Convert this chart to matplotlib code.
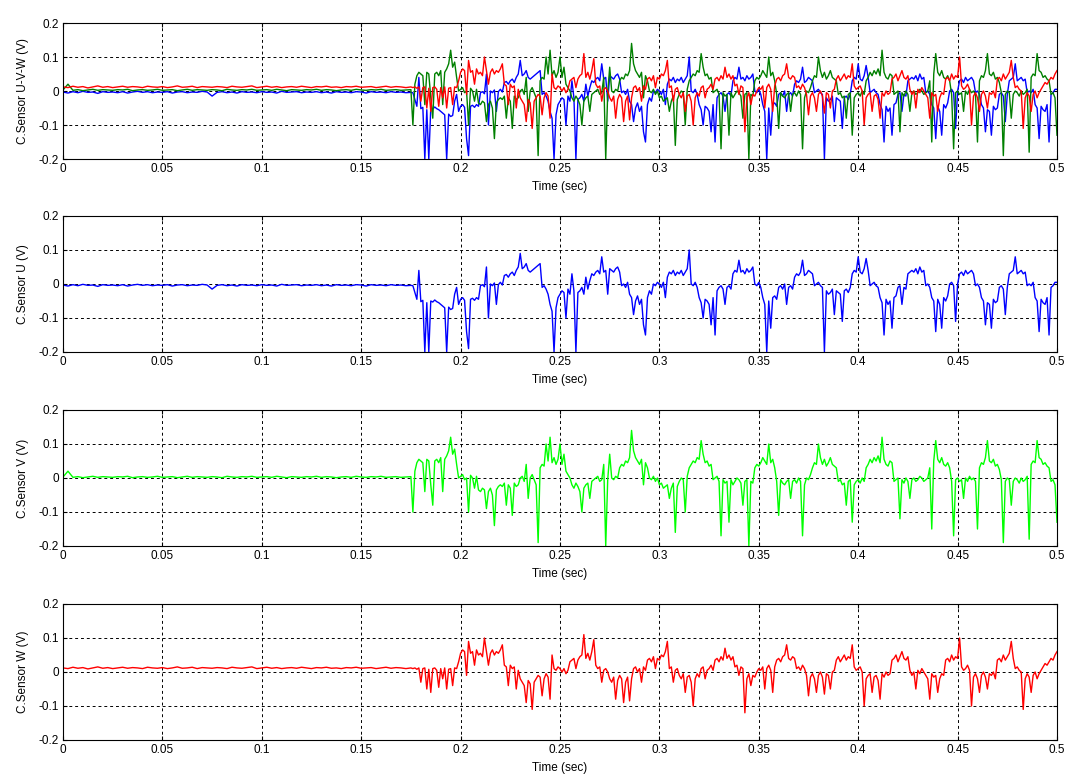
import numpy as np
import matplotlib
matplotlib.use('Agg')
import matplotlib.pyplot as plt

# ------------------------------------
# DATA (mV)
# ------------------------------------
# quiet part: 0 .. 0.175 s, one value every 2.5 ms
QUIET_DT = 0.0025
u_quiet = [-3, -6, -2, -5, -1, -4, -3, -7, -2, -4,
           -3, -5, -2, -6, -3, -1, -4, -2, -5, -3,
           -4, -2, -6, -3, -2, -5, -3, -4, -1, -3,
           -15, -4, -2, -5, -3, -6, -2, -4, -3, -5,
           -2, -4, -3, -6, -1, -4, -3, -2, -5, -3,
           -4, -2, -5, -3, -6, -2, -4, -3, -5, -2,
           -3, -6, -2, -4, -3, -5, -2, -4, -3, -5, -4]
v_quiet = [3, 20, 2, 4, 1, 3, 5, 2, 4, 3,
           2, 4, 3, 5, 1, 3, 4, 2, 3, 5,
           2, 3, 4, 1, 3, 5, 2, 4, 3, 2,
           4, 3, 1, 5, 3, 2, 4, 3, 5, 2,
           3, 4, 2, 5, 3, 1, 4, 3, 2, 4,
           3, 5, 2, 4, 3, 1, 3, 4, 2, 5,
           3, 2, 4, 3, 5, 2, 3, 4, 2, 3, 4]
w_quiet = [12, 10, 14, 11, 13, 9, 12, 15, 11, 13,
           10, 12, 14, 11, 13, 12, 10, 14, 12, 11,
           13, 10, 12, 15, 11, 12, 14, 10, 13, 12,
           11, 13, 12, 10, 14, 12, 11, 13, 15, 10,
           12, 14, 11, 13, 10, 12, 13, 11, 14, 12,
           10, 13, 12, 14, 11, 12, 10, 13, 12, 14,
           11, 12, 13, 10, 12, 14, 11, 13, 12, 10, 12]

# active part: from 0.176 s, one value every 1 ms
ACTIVE_T0 = 0.176
ACTIVE_DT = 0.001
u_active = [-5, -25, -45, 40,
            -52, -48, -200, -55, -200, -50, -53, -47, -52, -55,   # 0.18
            -60, -65, -70, -200, -68, -75, -72, -30, -10, -60,    # 0.19
            -45, -40, -48, -140, -190, -45, -42, -48, -40, -45,   # 0.20
            -5, -2, -8, 50, -100, 0, -5, 3, -60, -2,              # 0.21
            5, -3, 25, 28, 20, 30, 35, 25, 40, 50,                # 0.22
            90, 45, 50, 60, 40, 35, 40, 45, 50, 55,               # 0.23
            60, -10, -5, -15, -30, -60, -80, -200, -70, -40,      # 0.24
            -30, -20, -25, -100, -15, -30, 30, -20, -200, -25,    # 0.25
            -20, -10, -30, 20, -15, 10, 30, 25, 35, 40,           # 0.26
            30, 80, 35, 40, -30, 45, 40, 35, 45, 50,              # 0.27
            35, -5, 0, -10, 5, -30, -40, -90, -50, -35,           # 0.28
            -60, -45, -120, -150, -40, -20, -30, 0, -5, 5,        # 0.29
            0, -10, 5, -40, 20, 35, 30, 40, 25, 35,               # 0.30
            30, 40, 25, 35, 45, 100, 0, -5, 5, -10,               # 0.31
            -40, -55, -100, -45, -50, -60, -120, -40, -150, -20,  # 0.32
            -10, -5, -15, -60, -10, -5, -15, 30, 40, 35,          # 0.33
            70, 35, 40, 30, 45, 35, 40, 50, 0, -5,                # 0.34
            5, -10, -40, -60, -200, -50, -130, -40, -35, -45,     # 0.35
            -10, -5, -15, 0, -60, -10, -5, -15, 20, 30,           # 0.36
            25, 35, 70, 25, 30, 40, 35, 30, -5, 0,                # 0.37
            5, -5, -10, -200, -20, -30, -25, -15, -90, -20,       # 0.38
            -25, -30, -110, -20, -15, -25, -10, 30, 40, 35,       # 0.39
            80, 35, 30, 45, 75, 40, -5, 0, 5, -5,                 # 0.40
            -10, -40, -55, -150, -45, -60, -50, -130, -40, -35,   # 0.41
            -10, -5, -60, -10, -15, 30, 35, 40, 35, 45,           # 0.42
            30, 50, 35, 40, -5, 0, -10, -40, -50, -140,           # 0.43
            -45, -60, -130, -40, -50, -35, 0, 5, -5, -110,        # 0.44
            0, 30, 35, 25, 40, 30, 35, 40, 30, -5,                # 0.45
            0, -10, -40, -50, -120, -55, -60, -130, -45, -55,     # 0.46
            -50, -10, -5, -15, -90, -10, 30, 35, 40, 80,          # 0.47
            30, 35, 40, 30, 35, -5, 0, -5, 5, -40,                # 0.48
            -50, -140, -45, -55, -60, -40, -150, -10, -5, 5,      # 0.49
            5]
v_active = [-100, 20, 45, 55,
            50, 45, -40, 55, 50, -20, -80, 50, 55, 45,            # 0.18
            60, -40, 55, 65, 80, 120, 70, 85, 40, 0,              # 0.19
            5, 10, -5, 0, -100, 8, 0, -30, 5, -35,                # 0.20
            -40, -30, -35, -90, -40, -30, -50, -140, -35, -25,    # 0.21
            -20, -25, -15, -80, -20, -30, -110, -15, -25, -20,    # 0.22
            0, 5, -10, 40, -60, 0, 10, -5, -20, -190,             # 0.23
            30, 40, 35, 100, 50, 120, 45, 60, 40, 55,             # 0.24
            100, 40, 70, 20, 10, 0, -20, -30, -15, -25,           # 0.25
            -40, -100, -30, -20, -15, -60, -10, -5, 0, 5,         # 0.26
            -10, -5, 40, -200, -5, 70, 0, -5, 5, 0,               # 0.27
            30, 40, 35, 50, 45, 60, 140, 80, 60, 50,              # 0.28
            40, 55, -20, 45, 30, 0, -5, 5, -10, 0,                # 0.29
            -20, -15, -30, -25, -20, -60, -30, -15, -160, -25,    # 0.30
            -10, 0, -5, -100, 5, 30, 40, 50, 45, 60,              # 0.31
            55, 110, 70, 45, 50, 35, 40, -5, 0, 5,                # 0.32
            -10, -170, -5, -15, -10, -130, -5, -20, -10, 0,       # 0.33
            -5, -15, -80, -10, -5, -200, -10, -15, 30, 40,        # 0.34
            35, 45, 60, 50, 40, 100, 45, 55, 30, -10,             # 0.35
            -110, -5, -15, -20, -10, -5, -60, -10, -5, -15,       # 0.36
            0, -10, -170, -20, 0, -5, 10, 30, 45, 40,             # 0.37
            100, 60, 40, 55, 35, 45, 60, 40, 35, 30,              # 0.38
            -10, -5, -20, -15, -80, -10, -5, -130, -20, -10,      # 0.39
            -5, -15, 0, -10, 30, 40, 55, 45, 60, 50,              # 0.40
            65, 45, 120, 55, 40, 35, 50, 45, -10, -5,             # 0.41
            0, -120, -5, -15, 0, -10, -60, -5, 0, -10,            # 0.42
            -5, 5, 0, -10, -5, 0, 30, -150, 50, 110,              # 0.43
            55, 45, 60, 40, 35, 45, 30, -10, -170, -5,            # 0.44
            0, -10, -5, -60, 0, -10, 5, -5, 0, -10,               # 0.45
            -150, 30, 45, 40, 60, 110, 50, 45, 55, 35,            # 0.46
            40, 25, -5, -190, -10, 0, -5, -80, -10, 0,            # 0.47
            -5, -15, 0, -10, -5, 5, -180, 40, 50, 45,             # 0.48
            110, 60, 55, 40, 45, 35, 30, -10, -5, -20,            # 0.49
            -130]
w_active = [10, 12, 8, 12,
            -30, 10, 12, -50, 8, -60, 10, 12, 5, -45,             # 0.18
            10, -20, 12, -50, 8, 10, -40, 12, 10, 30,             # 0.19
            55, 65, 60, -10, 90, 55, 60, 20, 65, 50,              # 0.20
            55, 45, 100, 60, 20, 55, 65, 50, 60, 55,              # 0.21
            65, 80, 20, 15, -40, 20, 10, 15, -50, 5,              # 0.22
            -20, -30, -40, -90, -25, -35, -110, -30, -20, -10,    # 0.23
            -15, -70, -20, -5, -15, -80, 50, 10, 5, 15,           # 0.24
            10, 0, 10, -5, 5, 30, 35, 40, 10, 35,                 # 0.25
            45, 50, 110, 40, 55, 35, 60, 95, 20, 10,              # 0.26
            15, -30, 5, 10, 0, -20, -30, -15, -80, -25,           # 0.27
            -10, -20, -90, -30, -15, -85, -20, 10, 15, 0,         # 0.28
            10, -30, 15, 5, 35, 40, 30, 45, 10, 40,               # 0.29
            35, 50, 45, 60, 90, 10, 15, -30, 5, 10,               # 0.30
            -10, -20, -5, -60, -15, -10, -30, -100, -20, -5,      # 0.31
            -15, 10, 15, -20, 5, 10, 20, 5, 35, 40,               # 0.32
            30, 45, 35, 70, 40, 50, 35, 45, 15, 20,               # 0.33
            -10, 15, 10, -120, -20, -5, -40, -10, -15, 0,         # 0.34
            10, 5, 15, -50, 10, 20, 5, -60, 15, 35,               # 0.35
            40, 30, 45, 50, 80, 40, 35, 45, 40, 10,               # 0.36
            15, 5, 20, 10, -10, -70, -15, -5, -20, -60,           # 0.37
            -10, 0, -15, -65, -5, -10, -50, 0, 5, 35,             # 0.38
            45, 30, 40, 50, 35, 45, 40, 80, 15, 5,                # 0.39
            10, 15, 0, -100, -20, -10, -5, -60, -15, -10,         # 0.40
            -25, -80, -5, -15, 0, -10, -5, 35, 40, 50,            # 0.41
            30, 45, 60, 40, 35, 45, 5, -10, 0, -50,               # 0.42
            5, -5, 10, 0, -10, -20, -80, -5, -15, -10,            # 0.43
            -60, -20, -5, -10, 35, 40, 30, 50, 35, 45,            # 0.44
            40, 100, 15, 5, 10, 20, 5, -100, -15, -5,             # 0.45
            -20, -60, -10, 0, -15, -50, -5, -10, 0, -20,          # 0.46
            35, 40, 30, 50, 35, 45, 55, 90, 40, 10,               # 0.47
            15, 5, 0, -110, -20, -5, -15, -60, -10, 0,            # 0.48
            -20, -5, 5, 15, 25, 20, 30, 40, 35, 50,               # 0.49
            60]

channels = ['U', 'V', 'W']
quiet_mv = {'U': u_quiet, 'V': v_quiet, 'W': w_quiet}
active_mv = {'U': u_active, 'V': v_active, 'W': w_active}

x_ticks = [0, 0.05, 0.1, 0.15, 0.2, 0.25, 0.3, 0.35, 0.4, 0.45, 0.5]
x_tick_labels = ['0', '0.05', '0.1', '0.15', '0.2', '0.25', '0.3', '0.35', '0.4', '0.45', '0.5']
y_ticks = [-0.2, -0.1, 0, 0.1, 0.2]
y_tick_labels = ['-0.2', '-0.1', '0', '0.1', '0.2']


def trace(ch):
    """Time axis and volts for one channel (quiet + active part)."""
    q = np.array(quiet_mv[ch], dtype=float)
    a = np.array(active_mv[ch], dtype=float)
    t = np.concatenate([np.arange(len(q)) * QUIET_DT, ACTIVE_T0 + np.arange(len(a)) * ACTIVE_DT])
    return t, np.concatenate([q, a]) / 1000.0


# ------------------------------------
# PLOTTING
# ------------------------------------
plt.rcParams['font.family'] = ['Liberation Sans', 'DejaVu Sans']
fig = plt.figure(figsize=(10.82, 7.82), dpi=100)

left, width, height = 63 / 1082, 994 / 1082, 136 / 782
bottoms = [1 - 159 / 782, 1 - 352 / 782, 1 - 546 / 782, 1 - 740 / 782]

panels = [
    ('C.Sensor U-V-W (V)', [('U', '#0000ff'), ('V', '#008000'), ('W', '#ff0000')]),
    ('C.Sensor U (V)', [('U', '#0000ff')]),
    ('C.Sensor V (V)', [('V', '#00ff00')]),
    ('C.Sensor W (V)', [('W', '#ff0000')]),
]

for bottom, (ylabel, lines) in zip(bottoms, panels):
    ax = fig.add_axes([left, bottom, width, height])
    for ch, color in lines:
        t, v = trace(ch)
        ax.plot(t, v, color=color, linewidth=1.0)

    ax.set_xlim(0, 0.5)
    ax.set_ylim(-0.2, 0.2)
    ax.set_xticks(x_ticks)
    ax.set_xticklabels(x_tick_labels)
    ax.set_yticks(y_ticks)
    ax.set_yticklabels(y_tick_labels)
    ax.tick_params(direction='in', length=3, labelsize=8.5, top=True, right=True, pad=3)
    ax.grid(True, color='black', linestyle=(0, (3, 3)), linewidth=0.7)
    for sp in ax.spines.values():
        sp.set_linewidth(0.8)
    ax.set_xlabel('Time (sec)', fontsize=8.5, labelpad=4)
    ax.set_ylabel(ylabel, fontsize=8.5, labelpad=7)

fig.savefig('out.png', dpi=100)
